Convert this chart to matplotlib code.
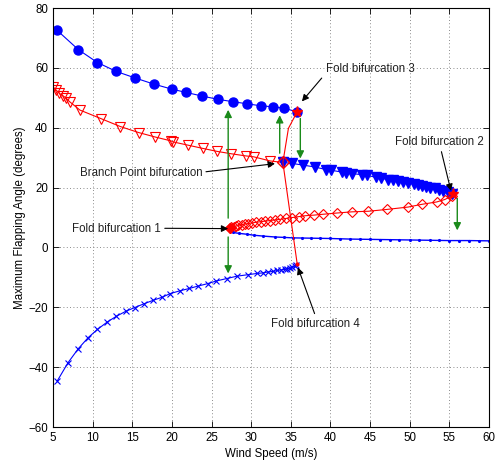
import matplotlib
matplotlib.use('Agg')
import matplotlib.pyplot as plt

plt.rcParams['font.family'] = ['Liberation Sans', 'DejaVu Sans']
plt.rcParams['font.size'] = 8

# stable upper branch (filled circles)
upper_x = [5.5, 8.2, 10.6, 13.0, 15.4, 17.7, 20.0, 21.8, 23.8, 25.8, 27.7, 29.5, 31.3, 32.8, 34.2, 35.8]
upper_y = [72.6, 66.1, 61.8, 58.8, 56.6, 54.6, 52.9, 51.8, 50.6, 49.5, 48.7, 48.0, 47.3, 47.0, 46.5, 45.3]

# unstable branch (open down triangles)
tri_x = [5.0, 5.4, 5.8, 6.3, 6.7, 7.1, 8.4, 11.1, 13.5, 15.8, 17.9, 19.9, 20.1, 22.0, 23.9, 25.7,
         27.5, 29.3, 30.3, 32.4, 34.0]
tri_y = [53.7, 52.6, 51.5, 50.6, 49.8, 48.7, 45.9, 43.0, 40.4, 38.4, 36.9, 35.6, 35.3, 34.2, 33.1, 32.1,
         31.3, 30.6, 30.3, 28.9, 28.4]

# stable middle branch (filled down triangles)
mid_x = [34.0, 35.1, 36.6, 38.0, 39.5, 40.1, 41.4, 42.0, 42.7, 44.0, 44.6, 45.8, 46.4, 47.3, 47.9,
         48.5, 49.2, 49.8, 50.5, 51.1, 51.6, 52.1, 52.6, 53.2, 53.7, 54.2, 54.8, 55.3]
mid_y = [28.4, 28.1, 27.5, 26.9, 26.0, 25.8, 25.2, 24.9, 24.7, 24.3, 24.1, 23.4, 23.1, 22.7, 22.4,
         22.1, 21.9, 21.6, 21.2, 20.8, 20.5, 20.2, 20.0, 19.7, 19.3, 18.8, 18.4, 17.8]

# unstable lower branch (open diamonds)
dia_x = [27.3, 27.5, 27.8, 28.1, 28.4, 28.8, 29.2, 29.6, 30.1, 30.6, 31.2, 31.8, 32.4, 33.0, 33.7,
         34.4, 35.2, 36.0, 36.8, 37.9, 39.1, 40.8, 42.7, 44.8, 47.1, 49.8, 51.5, 53.4, 54.4, 55.3]
dia_y = [6.5, 6.8, 7.0, 7.2, 7.4, 7.6, 7.8, 8.0, 8.2, 8.4, 8.6, 8.8, 9.0, 9.2, 9.4,
         9.7, 10.0, 10.3, 10.6, 10.8, 11.1, 11.5, 11.9, 12.1, 12.7, 13.5, 14.4, 15.2, 16.0, 17.1]

# stable low branch (small dots)
dot_x = [27.3, 27.7, 28.5, 29.5, 30.3, 31.5, 33.0, 34.2, 35.3, 36.4, 37.5, 38.7, 39.9, 41.2, 42.5,
         43.7, 45.0, 46.2, 47.5, 48.7, 50.0, 51.2, 52.5, 53.7, 55.0, 56.2, 57.5, 58.7, 60.0]
dot_y = [6.2, 5.0, 4.7, 4.4, 4.1, 3.8, 3.5, 3.35, 3.2, 3.15, 3.1, 3.05, 3.0, 2.9, 2.8,
         2.75, 2.7, 2.65, 2.6, 2.55, 2.5, 2.45, 2.4, 2.35, 2.3, 2.3, 2.3, 2.25, 2.2]

# negative branch (x markers)
neg_x = [5.54, 6.9, 8.2, 9.45, 10.6, 11.85, 13.0, 14.2, 15.3, 16.5, 17.6, 18.8, 19.8, 21.0, 22.2,
         23.3, 24.5, 25.6, 26.9, 28.2, 29.6, 30.7, 31.5, 32.1, 32.8, 33.3, 33.8, 34.3, 34.5, 34.9,
         35.2, 35.5, 35.7]
neg_y = [-44.6, -38.5, -33.8, -30.1, -27.4, -24.9, -23.0, -21.3, -20.1, -18.8, -17.7, -16.6, -15.4,
         -14.5, -13.7, -12.9, -12.1, -11.2, -10.4, -9.6, -9.1, -8.7, -8.5, -8.2, -8.0, -7.7, -7.5,
         -7.3, -7.1, -6.9, -6.5, -6.2, -5.7]

# connecting unstable branch (red line)
link_x = [35.8, 34.7, 34.0, 35.8]
link_y = [45.3, 39.8, 28.4, -5.4]

# bifurcation points
fold_x = [35.8, 55.4]
fold_y = [45.3, 17.8]
bp_x, bp_y = 34.0, 28.4
f1_x, f1_y = 27.3, 6.5
f4_x, f4_y = 35.8, -5.4

# green jump arrows: (x, y_start, y_end)
jumps = [(27.1, 9.8, 46.0), (27.1, 3.5, -8.7), (33.6, 31.5, 44.2), (36.2, 43.1, 29.7), (56.0, 16.4, 5.7)]

# annotations: (text, text pos, arrow start, arrow tip, ha)
notes = [('Fold bifurcation 3', (39.4, 59.5), (38.9, 56.6), (36.4, 48.8), 'left'),
         ('Fold bifurcation 2', (48.2, 35.1), (54.0, 32.0), (55.2, 18.9), 'left'),
         ('Branch Point bifurcation', (23.9, 24.9), (24.3, 25.3), (33.0, 28.0), 'right'),
         ('Fold bifurcation 1', (18.6, 6.3), (19.1, 6.4), (27.1, 6.3), 'right'),
         ('Fold bifurcation 4', (32.5, -25.7), (38.0, -22.1), (35.9, -6.7), 'left')]

fig = plt.figure(figsize=(4.98, 4.65), dpi=100)
ax = fig.add_axes([0.1064, 0.0817, 0.8755, 0.901])

ax.plot(upper_x, upper_y, 'b-o', lw=0.8, ms=6.5, mfc='b', mec='b')
ax.plot(tri_x, tri_y, 'r-v', lw=0.8, ms=6.5, mfc='none', mec='r', mew=0.8)
ax.plot(mid_x, mid_y, 'b-v', lw=0.8, ms=6.5, mfc='b', mec='b')
ax.plot(dia_x, dia_y, 'r-D', lw=0.8, ms=5.5, mfc='none', mec='r', mew=0.8)
ax.plot(dot_x, dot_y, 'b.-', lw=1.0, ms=2.5)
ax.plot(neg_x, neg_y, 'b-x', lw=0.8, ms=4, mew=0.8)
ax.plot(link_x, link_y, 'r-', lw=0.8)
ax.plot([f4_x], [f4_y], 'r.', ms=4)
ax.plot([f1_x], [f1_y], 'rD', ms=5.5, mfc='r')
ax.plot([bp_x], [bp_y], 'rD', ms=6.5, mfc='none', mew=1.0)
ax.plot(fold_x, fold_y, 'r*', ms=8)

for x, y0, y1 in jumps:
    ax.annotate('', xy=(x, y1), xytext=(x, y0),
                arrowprops=dict(arrowstyle='-|>', color='#1a8a1a', lw=1.0,
                                mutation_scale=11, shrinkA=0, shrinkB=0))

for txt, tpos, a0, a1, ha in notes:
    ax.text(tpos[0], tpos[1], txt, ha=ha, va='center', fontsize=8.3, color='#222222')
    ax.annotate('', xy=a1, xytext=a0,
                arrowprops=dict(arrowstyle='-|>', color='black', lw=0.8,
                                mutation_scale=10, shrinkA=0, shrinkB=0))

ax.set_xlim(5, 60)
ax.set_ylim(-60, 80)
ax.set_xticks(range(5, 61, 5))
ax.set_yticks(range(-60, 81, 20))
ax.tick_params(direction='in', top=True, right=True, length=4, width=0.6, labelsize=8.3)
ax.grid(True, linestyle=(0, (1, 3)), color='0.4', lw=0.6)
for s in ax.spines.values():
    s.set_linewidth(0.8)
ax.set_xlabel('Wind Speed (m/s)', fontsize=8.3, labelpad=3)
ax.set_ylabel('Maximum Flapping Angle (degrees)', fontsize=8.3, labelpad=2)

fig.savefig('out.png', dpi=100)
